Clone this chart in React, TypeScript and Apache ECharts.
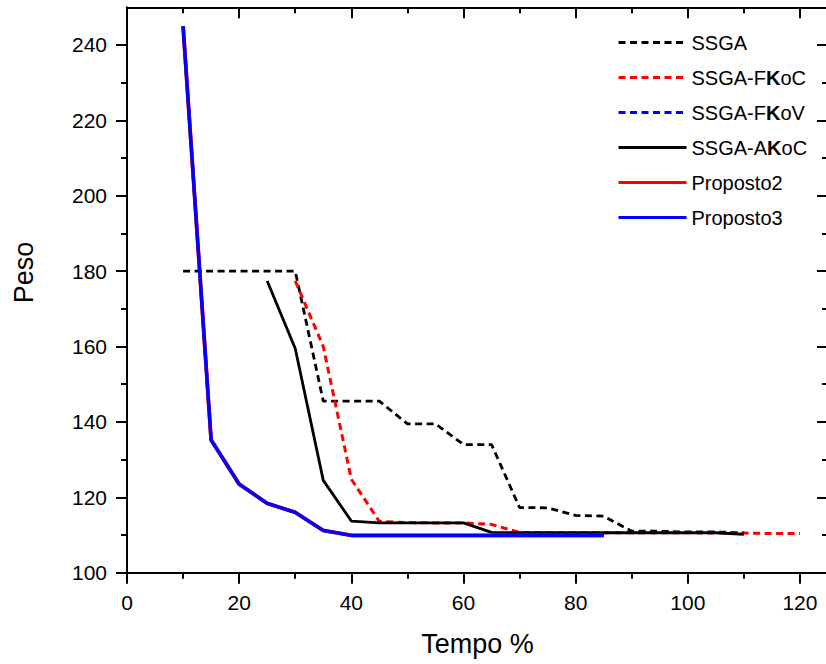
import React, { useEffect, useRef } from "react";
import * as echarts from "echarts";

const FONT = "'Liberation Sans', Arial, Helvetica, sans-serif";

// Tick values
const xMajorTicks = [0, 20, 40, 60, 80, 100, 120];
const xMinorTicks = [10, 30, 50, 70, 90, 110];
const yMajorTicks = [100, 120, 140, 160, 180, 200, 220, 240];
const yMinorTicks = [110, 130, 150, 170, 190, 210, 230];

// Series data (Tempo %, Peso)
const ssgaX = [10, 15, 20, 25, 30, 35, 40, 45, 50, 55, 60, 65, 70, 75, 80, 85, 90, 95, 100, 105, 110];
const ssgaY = [180, 180, 180, 180, 180, 145.5, 145.5, 145.5, 139.5, 139.5, 134, 134, 117.3, 117.2, 115.2, 115, 111, 111, 110.8, 110.8, 110.6];

const fkocX = [30, 35, 40, 45, 50, 55, 60, 65, 70, 75, 80, 85, 90, 95, 100, 105, 110, 115, 120];
const fkocY = [177.4, 160, 124.8, 113.6, 113.3, 113.2, 113.2, 112.8, 110.7, 110.6, 110.6, 110.6, 110.6, 110.6, 110.6, 110.5, 110.5, 110.4, 110.4];

const fkovX = [10, 15, 20, 25, 30, 35, 40, 45, 50, 55, 60, 65, 70, 75, 80, 85];
const fkovY = [245, 135.2, 123.5, 118.4, 116, 111.2, 109.9, 109.9, 109.9, 109.9, 109.9, 109.9, 109.9, 109.9, 109.9, 109.9];

const akocX = [25, 30, 35, 40, 45, 50, 55, 60, 65, 70, 75, 80, 85, 90, 95, 100, 105, 110];
const akocY = [177.4, 159.5, 124.5, 113.7, 113.2, 113.2, 113.2, 113.2, 110.7, 110.6, 110.6, 110.6, 110.6, 110.6, 110.6, 110.6, 110.6, 110.2];

const prop2X = [10, 15, 20, 25, 30, 35, 40, 45, 50, 55, 60, 65, 70, 75, 80, 85];
const prop2Y = [245, 135.2, 123.5, 118.4, 116, 111.2, 109.9, 109.9, 109.9, 109.9, 109.9, 109.9, 109.9, 109.9, 109.9, 109.9];

const prop3X = [10, 15, 20, 25, 30, 35, 40, 45, 50, 55, 60, 65, 70, 75, 80, 85];
const prop3Y = [245, 135.2, 123.5, 118.4, 116, 111.2, 109.9, 109.9, 109.9, 109.9, 109.9, 109.9, 109.9, 109.9, 109.9, 109.9];

const zip = (xs: number[], ys: number[]) => xs.map((x, i) => [x, ys[i]]);

const DASH = [7, 4.5];

export default function App() {
  const ref = useRef<HTMLDivElement>(null);

  useEffect(() => {
    if (!ref.current) return;
    const chart = echarts.init(ref.current, null, { renderer: "svg" });

    const baseX = {
      type: "value",
      min: 0,
      max: 125,
      interval: 20,
      splitLine: { show: false },
    };
    const baseY = {
      type: "value",
      min: 100,
      max: 250,
      interval: 20,
      splitLine: { show: false },
    };
    const lineStyle = { color: "#000", width: 2 };

    const mkSeries = (name: string, xs: number[], ys: number[], color: string, width: number, type: any) => ({
      name,
      type: "line",
      data: zip(xs, ys),
      showSymbol: false,
      symbol: "none",
      silent: true,
      lineStyle: { color, width, type },
      itemStyle: { color },
    });

    const option: any = {
      animation: false,
      textStyle: { fontFamily: FONT },
      grid: {
        left: 127,
        right: -2,
        top: 7.3,
        bottom: 91.3,
        containLabel: false,
        outerBoundsMode: "none",
      },
      xAxis: [
        {
          ...baseX,
          position: "bottom",
          axisLine: { show: true, onZero: false, lineStyle },
          axisTick: { show: true, inside: false, length: 11, lineStyle, customValues: xMajorTicks },
          axisLabel: {
            show: true,
            customValues: xMajorTicks,
            fontSize: 21,
            color: "#000",
            margin: 19,
            fontFamily: FONT,
          },
          name: "Tempo %",
          nameLocation: "middle",
          nameGap: 58,
          nameTextStyle: { fontSize: 27, color: "#000", fontFamily: FONT },
        },
        {
          ...baseX,
          position: "bottom",
          axisLine: { show: false, onZero: false },
          axisTick: { show: true, inside: false, length: 6, lineStyle, customValues: xMinorTicks },
          axisLabel: { show: false },
        },
        {
          ...baseX,
          position: "top",
          axisLine: { show: true, onZero: false, lineStyle },
          axisTick: { show: true, inside: true, length: 11, lineStyle, customValues: xMajorTicks },
          axisLabel: { show: false },
        },
        {
          ...baseX,
          position: "top",
          axisLine: { show: false, onZero: false },
          axisTick: { show: true, inside: true, length: 6, lineStyle, customValues: xMinorTicks },
          axisLabel: { show: false },
        },
      ],
      yAxis: [
        {
          ...baseY,
          position: "left",
          axisLine: { show: true, onZero: false, lineStyle },
          axisTick: { show: true, inside: false, length: 11, lineStyle, customValues: yMajorTicks },
          axisLabel: {
            show: true,
            customValues: yMajorTicks,
            fontSize: 21,
            color: "#000",
            margin: 20,
            fontFamily: FONT,
          },
        },
        {
          ...baseY,
          position: "left",
          axisLine: { show: false, onZero: false },
          axisTick: { show: true, inside: false, length: 6, lineStyle, customValues: yMinorTicks },
          axisLabel: { show: false },
        },
        {
          ...baseY,
          position: "right",
          axisLine: { show: true, onZero: false, lineStyle },
          axisTick: { show: true, inside: true, length: 11, lineStyle, customValues: yMajorTicks },
          axisLabel: { show: false },
        },
        {
          ...baseY,
          position: "right",
          axisLine: { show: false, onZero: false },
          axisTick: { show: true, inside: true, length: 6, lineStyle, customValues: yMinorTicks },
          axisLabel: { show: false },
        },
      ],
      legend: {
        orient: "vertical",
        left: 617,
        top: 30.5,
        padding: 0,
        itemWidth: 68,
        itemHeight: 24,
        itemGap: 11,
        selectedMode: false,
        itemStyle: { color: "transparent", borderColor: "transparent", borderWidth: 0, opacity: 0 },
        lineStyle: { width: 3 },
        textStyle: {
          fontSize: 20,
          color: "#000",
          fontFamily: FONT,
          lineHeight: 24,
          rich: {
            b: { fontSize: 20, fontWeight: "bold", color: "#000", fontFamily: FONT, lineHeight: 24 },
          },
        },
        formatter: (name: string) => name.replace("K", "{b|K}"),
        data: ["SSGA", "SSGA-FKoC", "SSGA-FKoV", "SSGA-AKoC", "Proposto2", "Proposto3"],
      },
      graphic: [
        {
          type: "text",
          x: 24,
          y: 272.5,
          rotation: Math.PI / 2,
          style: {
            text: "Peso",
            fontSize: 27,
            fontFamily: FONT,
            fill: "#000",
            align: "center",
            verticalAlign: "middle",
          },
        },
      ],
      series: [
        mkSeries("SSGA", ssgaX, ssgaY, "#000000", 2.8, DASH),
        mkSeries("SSGA-FKoC", fkocX, fkocY, "#ff0000", 3, DASH),
        mkSeries("SSGA-FKoV", fkovX, fkovY, "#0000ff", 3, DASH),
        mkSeries("SSGA-AKoC", akocX, akocY, "#000000", 2.8, "solid"),
        mkSeries("Proposto2", prop2X, prop2Y, "#ff0000", 3.8, "solid"),
        mkSeries("Proposto3", prop3X, prop3Y, "#0000ff", 3.5, "solid"),
      ],
    };

    chart.setOption(option);
    return () => chart.dispose();
  }, []);

  return <div ref={ref} style={{ width: 826, height: 664, position: "absolute", left: 0, top: 0 }} />;
}
